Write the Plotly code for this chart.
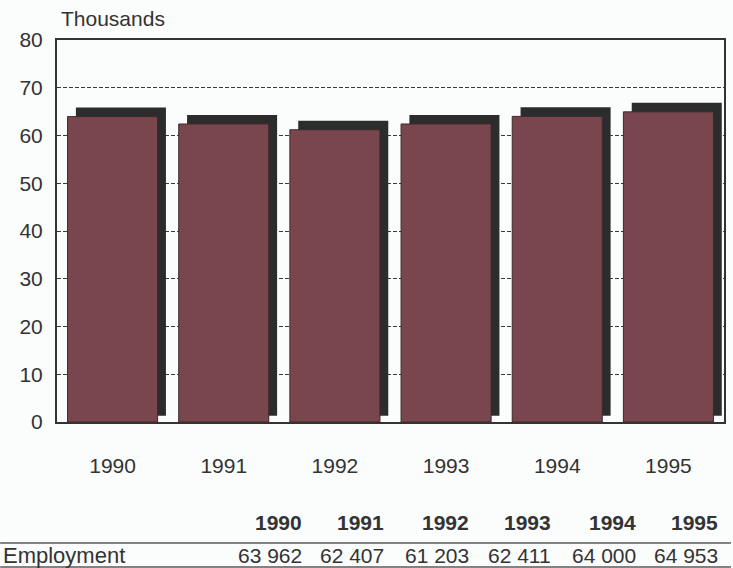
import plotly.graph_objects as go

# Employment, thousands of persons
years = ["1990", "1991", "1992", "1993", "1994", "1995"]
employment = [63962, 62407, 61203, 62411, 64000, 64953]
table_values = ["63 962", "62 407", "61 203", "62 411", "64 000", "64 953"]

values_k = [v / 1000 for v in employment]

FACE = "#7a464d"
SHADOW = "#2c2c2c"
INK = "#333333"
BG = "#fbfcfc"
FONT = "Liberation Sans, Arial, sans-serif"
FS = 21

W, H = 733, 568
L, R, T, B = 57, 7, 40, 146
PW, PH = W - L - R, H - T - B


def px(x):
    return (x - L) / PW


def py(y):
    return (H - B - y) / PH


bar_w = 0.81
shadow_dx = 0.075    # category units
shadow_base = 1.3    # thousands: shadow lifted off the axis
shadow_extra = 0.6   # thousands: shadow slightly taller than the bar

fig = go.Figure()
# dark drop shadow behind each bar
fig.add_trace(go.Bar(
    x=years, y=[v + shadow_extra for v in values_k],
    base=[shadow_base] * len(years),
    width=bar_w, offset=-bar_w / 2 + shadow_dx,
    marker=dict(color=SHADOW, line=dict(width=0)),
    hoverinfo="skip", showlegend=False,
))
fig.add_trace(go.Bar(
    x=years, y=values_k,
    width=bar_w, offset=-bar_w / 2,
    marker=dict(color=FACE, line=dict(color="#3a2a2c", width=1)),
    showlegend=False,
))

fig.update_layout(
    width=W, height=H,
    margin=dict(l=L, r=R, t=T, b=B),
    paper_bgcolor=BG, plot_bgcolor=BG,
    barmode="overlay",
    font=dict(family=FONT, size=FS, color=INK),
)
fig.update_xaxes(
    type="category", showgrid=False, showline=True, linecolor=INK,
    linewidth=2, mirror=True, ticks="", ticklabelstandoff=24,
    tickfont=dict(size=FS, color=INK),
)
fig.update_yaxes(
    range=[0, 80], dtick=10, showgrid=True, gridcolor="#3a3a3a",
    griddash="4px,2px", gridwidth=1, zeroline=False,
    showline=True, linecolor=INK, linewidth=2, mirror=True,
    ticks="", ticklabelstandoff=8, tickfont=dict(size=FS, color=INK),
)

fig.add_annotation(
    text="Thousands", xref="paper", yref="paper",
    x=px(59), y=py(18), xanchor="left", yanchor="middle",
    showarrow=False, font=dict(size=FS, color=INK),
)

# data table under the chart
col_right = [305, 387, 472, 554, 640, 722]
for xr, yr, val in zip(col_right, years, table_values):
    fig.add_annotation(
        text=f"<b>{yr}</b>", xref="paper", yref="paper",
        x=px(xr), y=py(522), xanchor="right", yanchor="middle",
        showarrow=False, font=dict(size=FS, color=INK),
    )
    fig.add_annotation(
        text=val, xref="paper", yref="paper",
        x=px(xr), y=py(555), xanchor="right", yanchor="middle",
        showarrow=False, font=dict(size=FS, color=INK),
    )
fig.add_annotation(
    text="Employment", xref="paper", yref="paper",
    x=px(1), y=py(555), xanchor="left", yanchor="middle",
    showarrow=False, font=dict(size=22, color=INK),
)
for yl in (543, 567):
    fig.add_shape(
        type="line", xref="paper", yref="paper",
        x0=px(0), x1=px(733), y0=py(yl), y1=py(yl),
        line=dict(color="#5a5a5a", width=1.5),
    )

fig.write_html("out.html")
